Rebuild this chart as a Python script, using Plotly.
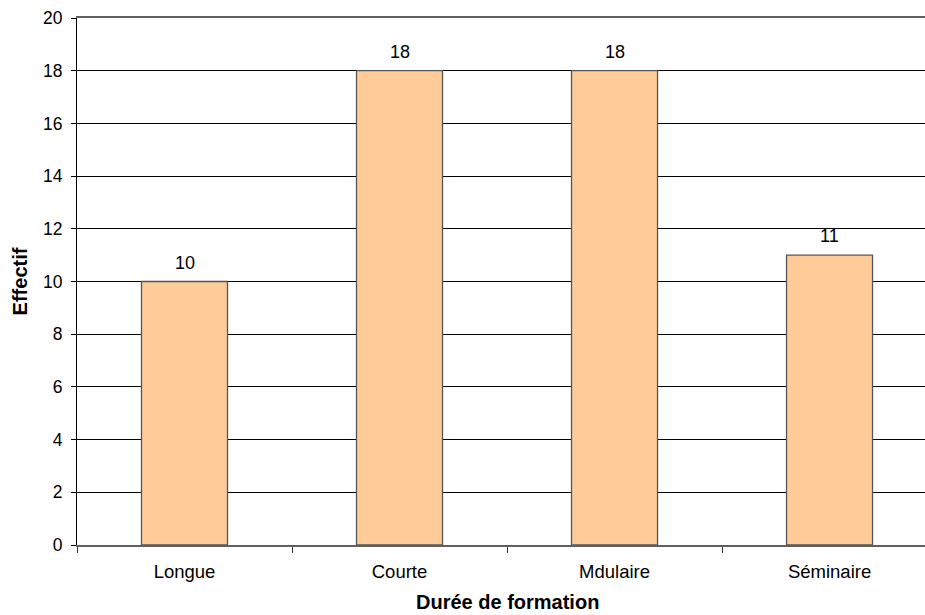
import plotly.graph_objects as go

categories = ["Longue", "Courte", "Mdulaire", "Séminaire"]
values = [10, 18, 18, 11]
y_ticks = [0, 2, 4, 6, 8, 10, 12, 14, 16, 18, 20]

FONT = "Liberation Sans, Arial, sans-serif"

fig = go.Figure()
fig.add_trace(go.Bar(
    x=categories, y=values, width=0.4,
    marker=dict(color="#FFCC99", line=dict(color="#555555", width=1.3)),
    hoverinfo="x+y",
))

for c, v in zip(categories, values):
    fig.add_annotation(x=c, y=v, text=str(v), showarrow=False,
                       yanchor="bottom", yshift=7,
                       font=dict(family=FONT, size=18, color="black"))

# x axis title centred on the (virtual) full plot area
fig.add_annotation(x=(507 - 77) / 848, xref="paper", y=-0.108, yref="paper",
                   yanchor="middle", text="<b>Durée de formation</b>", showarrow=False,
                   font=dict(family=FONT, size=20, color="black"))

fig.update_layout(
    width=925, height=615,
    margin=dict(l=77, r=0, t=18, b=70),
    paper_bgcolor="white", plot_bgcolor="white",
    showlegend=False,
    font=dict(family=FONT, size=17.5, color="black"),
    bargap=0.6,
)
fig.update_xaxes(
    type="category", range=[-0.5, 3.444],
    showline=True, linecolor="#606060", linewidth=1.5, mirror=True,
    ticks="outside", tickson="boundaries", ticklen=6, tickcolor="#333333", tickwidth=1,
    showgrid=False, tickfont=dict(size=18.5), ticklabelstandoff=9,
)
fig.update_yaxes(
    range=[0, 20], tickvals=y_ticks,
    showline=True, linecolor="black", linewidth=1,
    ticks="outside", ticklen=5, tickcolor="black",
    showgrid=True, gridcolor="black", gridwidth=1, zeroline=False,
    tickfont=dict(size=17.5), ticklabelstandoff=5,
    title=dict(text="<b>Effectif</b>", font=dict(size=20), standoff=10),
)

fig.write_html("out.html", config={"displayModeBar": False},
               post_script="document.body.style.margin='0';document.body.style.overflow='hidden';")
